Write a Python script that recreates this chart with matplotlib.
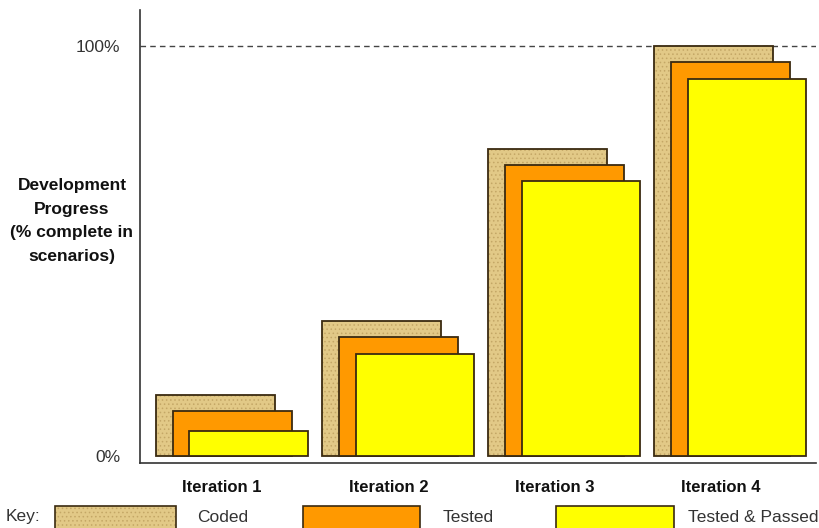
import matplotlib
matplotlib.use("Agg")
import matplotlib.pyplot as plt
from matplotlib.patches import Rectangle
import numpy as np

categories = ["Iteration 1", "Iteration 2", "Iteration 3", "Iteration 4"]
coded = [15, 33, 75, 100]
tested = [11, 29, 71, 96]
passed = [6, 25, 67, 92]
series_names = ["Coded", "Tested", "Tested & Passed"]
ytick_labels = ["0%", "100%"]

plt.rcParams['font.family'] = ['Liberation Sans', 'DejaVu Sans']
plt.rcParams['hatch.linewidth'] = 0.6

fig = plt.figure(figsize=(8.19, 5.28), dpi=100)
W, H = 819, 528
ax = fig.add_axes([140 / W, 1 - 463 / H, 676 / W, (463 - 10) / H])

tan = "#E2C987"
dots = "#c4a766"
orange = "#FF9900"
yellow = "#FFFF00"
edge = "#3a2a10"

x = np.arange(len(categories))
width = 0.715
off = 0.1
ax.bar(x - off, coded, width, color=tan, edgecolor=dots, linewidth=0,
       hatch="....", zorder=2)
ax.bar(x - off, coded, width, fill=False, edgecolor=edge, linewidth=1.3, zorder=2)
ax.bar(x, tested, width, color=orange, edgecolor=edge, linewidth=1.3, zorder=3)
ax.bar(x + off, passed, width, color=yellow, edgecolor=edge, linewidth=1.3, zorder=4)

ax.axhline(100, color="#444444", linestyle=(0, (4, 3)), linewidth=1, zorder=1)

ax.set_xlim(-0.555, 3.515)
ax.set_ylim(-1.7, 108.8)
for s in ["top", "right"]:
    ax.spines[s].set_visible(False)
for s in ["left", "bottom"]:
    ax.spines[s].set_color("#333333")
    ax.spines[s].set_linewidth(1.2)

ax.set_yticks([0, 100])
ax.set_yticklabels(ytick_labels, fontsize=12.5, color="#333333")
ax.tick_params(axis="y", length=0, pad=14)
ax.set_xticks(x - 0.06)
ax.set_xticklabels(categories, fontsize=12, fontweight="bold", color="#111111")
ax.tick_params(axis="x", length=0, pad=12)

fig.text(72 / W, 1 - 221 / H, "Development\nProgress\n(% complete in\nscenarios)",
         ha="center", va="center", fontsize=12.5, fontweight="bold",
         linespacing=1.72, color="#111111")

# Key row
fig.text(6 / W, 1 - 517 / H, "Key:", ha="left", va="center", fontsize=12.5, color="#333333")
swatches = [(55, 176, tan, "...."), (303, 420, orange, None), (556, 674, yellow, None)]
text_x = [197, 443, 688]
for (x0, x1, c, h), tx, name in zip(swatches, text_x, series_names):
    if h:
        fig.patches.append(Rectangle((x0 / W, 1 - 535 / H), (x1 - x0) / W, 29 / H,
                                     transform=fig.transFigure, facecolor=c,
                                     edgecolor=dots, linewidth=0, hatch=h))
        fig.patches.append(Rectangle((x0 / W, 1 - 535 / H), (x1 - x0) / W, 29 / H,
                                     transform=fig.transFigure, fill=False,
                                     edgecolor=edge, linewidth=1.2))
    else:
        fig.patches.append(Rectangle((x0 / W, 1 - 535 / H), (x1 - x0) / W, 29 / H,
                                     transform=fig.transFigure, facecolor=c,
                                     edgecolor=edge, linewidth=1.2))
    fig.text(tx / W, 1 - 517 / H, name, ha="left", va="center", fontsize=12.5, color="#333333")

fig.savefig("out.png", dpi=100)
